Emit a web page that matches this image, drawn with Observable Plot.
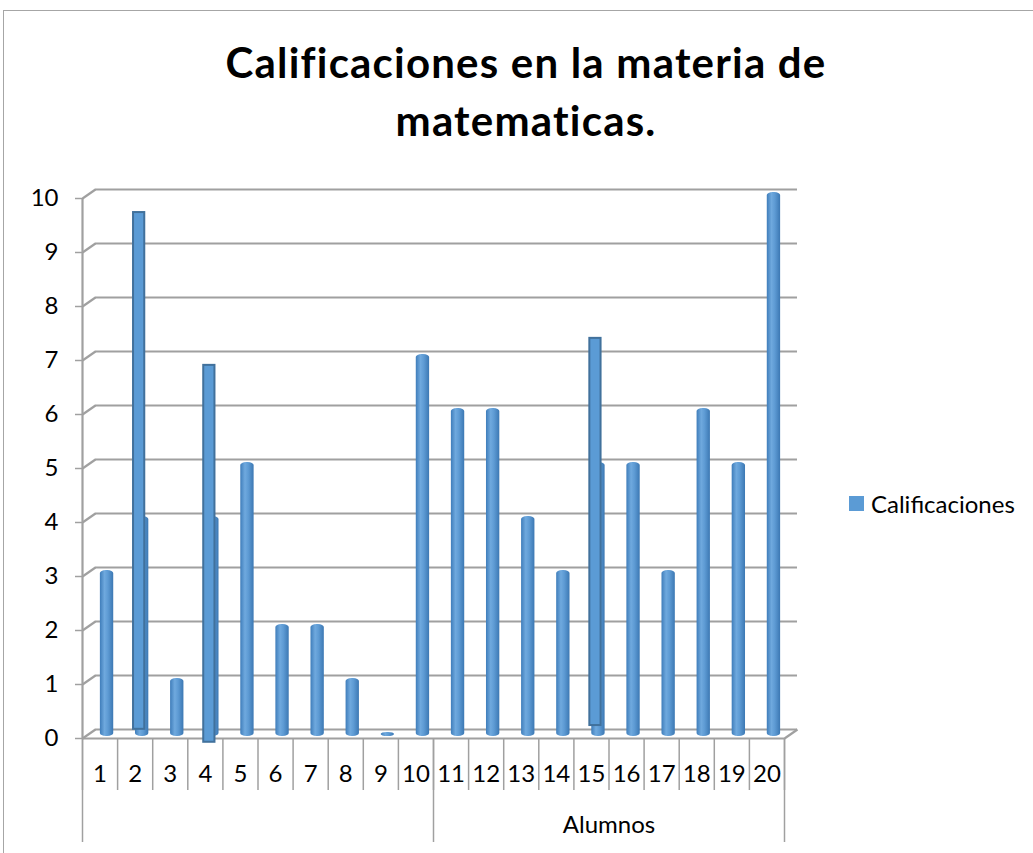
<!DOCTYPE html>
<html>
<head>
<meta charset="utf-8">
<script src="https://cdn.jsdelivr.net/npm/d3@7"></script>
<script src="https://cdn.jsdelivr.net/npm/@observablehq/plot@0.6"></script>
<style>
  html, body { margin: 0; padding: 0; background: #fff; }
  #wrap { position: relative; width: 1033px; height: 853px; overflow: hidden; font-family: Lato, "Open Sans", sans-serif; }
  #border { position: absolute; left: 3px; top: 10px; width: 1100px; height: 900px; border: 1px solid #a6a6a6; box-sizing: border-box; }
  #title { position: absolute; left: 0; top: 33px; width: 1052px; text-align: center; font-weight: 700; font-size: 42px; letter-spacing: 1.2px; line-height: 58px; color: #000; }
  #legend { position: absolute; left: 849px; top: 489px; font-size: 24px; color: #000; display: flex; align-items: center; }
  #legend .sw { width: 15px; height: 15px; background: #5B9BD5; margin-right: 7px; }
  #chart { position: absolute; left: 0; top: 0; }
  #chart svg text { font-size: 24px; }
</style>
</head>
<body>
<svg width="0" height="0" style="position:absolute">
  <defs>
    <linearGradient id="cyl" x1="0" x2="1" y1="0" y2="0">
      <stop offset="0" stop-color="#3F7DBA"/>
      <stop offset="0.35" stop-color="#6FA9DE"/>
      <stop offset="0.6" stop-color="#5E9BD4"/>
      <stop offset="1" stop-color="#3C78B3"/>
    </linearGradient>
  </defs>
</svg>
<div id="wrap">
  <div id="border"></div>
  <div id="chart"></div>
  <div id="title">Calificaciones en la materia de<br>matematicas.</div>
  <div id="legend"><div class="sw"></div><span>Calificaciones</span></div>
</div>
<script>
// ---- data ----
const alumnos = [1,2,3,4,5,6,7,8,9,10,11,12,13,14,15,16,17,18,19,20];
const calificaciones = [3,4,1,4,5,2,2,1,0,7,6,6,4,3,5,5,3,6,5,10];
const yTicks = [0,1,2,3,4,5,6,7,8,9,10];
const groupLabels = ["", "Alumnos"];
// drawn shapes over the chart (outlined rectangles)
const overlayAlumno = [2, 4, 15];
const overlayLow = [0.17, -0.07, 0.24];
const overlayHigh = [9.74, 6.91, 7.41];

const bars = alumnos.map((a, i) => ({alumno: a, valor: calificaciones[i]}));
const overlays = overlayAlumno.map((a, i) => ({alumno: a, lo: overlayLow[i], hi: overlayHigh[i]}));

// 3D depth offset (front plane -> back wall), in px
const DX = 13, DY = -9;
const W = 1033, H = 853;
const mL = 82, mR = W - 784, mT = 198, mB = H - 738;
const pxPerX = (W - mL - mR) / 20;
const pxPerY = (H - mT - mB) / 10;
const xMin = 0.5, xMax = 20.5;

const boundaries = d3.range(0, 21).map(k => xMin + k);
const groupBounds = [xMin, xMin + 10, xMax];

const slants = yTicks.map(v => ({x1: xMin, y1: v, x2: xMin + DX / pxPerX, y2: v - DY / pxPerY}));
const gridCol = "#a0a0a0";
const noText = () => "";

const plot = Plot.plot({
  width: W, height: H,
  marginLeft: mL, marginRight: mR, marginTop: mT, marginBottom: mB,
  style: {fontFamily: "Lato, 'Open Sans', sans-serif", fontSize: "24px", background: "transparent"},
  x: {type: "linear", domain: [xMin, xMax], axis: null},
  y: {domain: [0, 10], axis: null},
  marks: [
    // back wall gridlines
    Plot.ruleY(yTicks, {x1: xMin, x2: xMax, dx: DX, dy: DY, stroke: gridCol, strokeWidth: 2.2}),
    // left slants
    Plot.link(slants, {x1: "x1", y1: "y1", x2: "x2", y2: "y2", stroke: gridCol, strokeWidth: 2.2}),
    // right floor slant
    Plot.link([{x1: xMax, y1: 0, x2: xMax + DX / pxPerX, y2: -DY / pxPerY}], {x1: "x1", y1: "y1", x2: "x2", y2: "y2", stroke: gridCol, strokeWidth: 2.2}),
    // front floor edge
    Plot.ruleY([0], {x1: xMin, x2: xMax, stroke: gridCol, strokeWidth: 2.2}),
    // left vertical axis
    Plot.ruleX([xMin], {y1: 0, y2: 10, stroke: gridCol, strokeWidth: 2.2}),
    // y axis ticks & labels
    Plot.axisY({ticks: yTicks, tickSize: 7, tickPadding: 17, fontSize: 24, stroke: gridCol, strokeWidth: 1.5, color: "#000", label: null, tickFormat: d => String(d)}),
    // x category separators
    Plot.axisX({ticks: boundaries, tickSize: 52, tickFormat: noText, stroke: gridCol, strokeWidth: 1.5, label: null}),
    Plot.axisX({ticks: groupBounds, tickSize: 104, tickFormat: noText, stroke: gridCol, strokeWidth: 1.5, label: null}),
    // x category labels
    Plot.axisX({ticks: alumnos, tickSize: 0, tickPadding: 26, fontSize: 24, color: "#000", label: null, tickFormat: d => String(d)}),
    // group labels
    Plot.text(groupLabels.map((t, i) => ({t, x: xMin + 5 + 10 * i})), {x: "x", y: 0, text: "t", dy: 87, fontSize: 24, fill: "#000"}),
    // cylinders
    Plot.rectY(bars, {x1: d => d.alumno - 0.19, x2: d => d.alumno + 0.19, y1: 0, y2: "valor", dx: 7, dy: -4, insetTop: -2, insetBottom: -2, rx: 6, ry: 3, fill: "url(#cyl)"}),
    // overlay rectangles
    Plot.rectY(overlays, {x1: d => d.alumno - 0.16, x2: d => d.alumno + 0.16, y1: "lo", y2: "hi", dx: 4, fill: "#5B9BD5", stroke: "#41719C", strokeWidth: 2})
  ]
});
document.getElementById("chart").appendChild(plot);
</script>
</body>
</html>
